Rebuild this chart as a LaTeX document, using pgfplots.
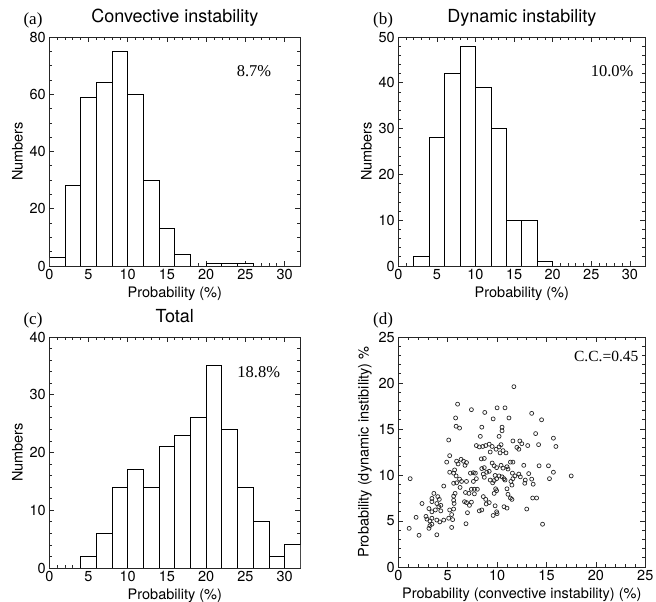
\documentclass[border=0pt]{standalone}
\usepackage{pgfplots}
\pgfplotsset{compat=1.18}
\usepackage{fontspec}
\setmainfont{TeX Gyre Heros}
\newfontfamily\serifn{Liberation Serif}

\pgfplotstableread{
x y
0 3
2 28
4 59
6 64
8 75
10 60
12 30
14 13
16 4
18 0
20 1
22 1
24 1
26 0
28 0
30 0
32 0
}\conv
\pgfplotstableread{
x y
0 0
2 2
4 28
6 42
8 48
10 39
12 30
14 10
16 10
18 1
20 0
22 0
24 0
26 0
28 0
30 0
32 0
}\dyn
\pgfplotstableread{
x y
0 0
2 0
4 2
6 6
8 14
10 17
12 14
14 21
16 23
18 26
20 35
22 24
24 14
26 8
28 2
30 4
32 0
}\tot
\pgfplotstableread{
x y
11.7 19.6
6.0 17.7
7.4 17.1
10.0 17.3
10.8 17.3
8.75 16.8
13.5 16.7
14.5 16.0
9.6 16.1
11.2 16.2
5.8 16.2
5.85 15.3
6.2 15.1
8.45 15.2
10.5 15.2
10.5 14.8
13.9 14.5
15.7 14.0
5.1 13.8
8.3 14.2
10.2 14.2
11.6 13.7
12.3 13.7
12.5 13.4
14.2 13.3
15.95 13.1
13.1 13.2
7.9 13.2
8.2 13.05
8.55 13.1
8.85 13.2
9.2 13.35
9.5 13.1
9.9 12.8
10.2 13.05
10.4 13.3
10.6 12.65
10.9 12.4
12.0 13.0
12.2 12.8
9.3 12.5
10.3 12.4
5.2 12.1
4.9 11.4
5.9 11.5
6.35 11.7
6.6 11.5
6.9 11.35
6.05 11.2
6.75 11.05
8.4 11.75
8.7 11.8
9.5 11.3
9.7 11.0
9.95 10.8
10.4 11.05
10.6 10.75
11.0 10.9
11.1 10.65
11.35 11.4
11.6 11.4
12.7 11.05
14.25 11.0
15.2 11.0
15.7 10.3
5.2 10.3
5.6 10.2
5.7 10.55
5.85 9.9
7.3 10.2
7.6 10.25
7.8 10.2
8.6 10.1
8.95 10.3
8.45 10.7
8.7 10.8
9.2 10.4
12.2 10.1
13.2 10.15
11.55 10.2
11.8 9.9
9.8 9.95
10.2 9.9
1.2 9.6
17.5 9.9
15.3 9.6
13.5 9.55
12.85 9.45
12.35 9.8
11.6 9.6
11.4 9.3
10.5 9.8
10.7 9.6
10.8 9.45
9.95 9.6
9.7 9.4
9.55 9.15
9.3 9.45
8.7 9.75
7.9 9.6
7.6 9.3
6.9 9.3
6.4 9.3
6.2 9.55
5.9 9.15
5.6 9.1
4.6 8.8
6.25 8.65
7.4 8.45
7.7 8.45
8.0 8.45
9.85 8.5
9.95 8.3
11.0 8.5
11.5 8.9
12.8 9.1
13.65 9.0
5.75 8.0
5.6 7.7
3.6 8.0
4.0 7.65
3.4 7.45
4.15 7.35
6.8 8.1
7.15 8.0
7.7 7.95
8.6 7.65
8.85 7.35
9.7 8.0
11.1 7.9
11.35 7.5
11.5 7.35
13.6 7.5
14.0 7.5
2.4 6.9
3.4 7.1
3.9 6.9
4.1 6.55
4.3 6.7
3.1 6.35
3.4 6.0
3.75 6.2
4.3 6.1
5.2 6.2
5.6 6.3
5.65 6.9
5.6 7.25
6.7 7.1
6.9 7.0
7.2 6.7
7.4 7.05
7.0 5.9
8.2 6.1
8.45 6.2
8.9 6.85
9.2 7.0
9.8 6.65
9.95 6.0
9.6 5.6
10.0 5.8
10.7 6.55
11.0 6.4
13.0 6.3
2.8 5.5
1.8 5.4
2.9 5.2
3.2 5.0
3.4 5.3
3.9 5.1
4.2 4.9
4.6 5.1
5.1 5.3
5.4 5.7
5.5 5.15
1.1 4.2
2.1 3.45
3.1 4.2
3.2 4.5
3.4 4.65
3.9 3.5
5.4 4.3
6.85 4.7
14.6 4.65
}\scat

\pgfplotsset{
  every axis/.append style={
    scale only axis,
    axis line style={line width=0.8pt, black!85},
    tick align=inside,
    major tick length=5pt,
    minor tick length=3pt,
    every tick/.style={black!85, line width=0.7pt},
    tick label style={font=\fontsize{14.5}{16}\selectfont},
    label style={font=\fontsize{14.5}{16}\selectfont},
    title style={font=\fontsize{18}{20}\selectfont, anchor=base, yshift=8pt},
    /pgf/number format/assume math mode=true,
    minor x tick num=4,
    xtick pos=both, ytick pos=both,
    xticklabel pos=lower, yticklabel pos=left,
  },
  hist/.style={
    xmin=0, xmax=32, ymin=0,
    xtick={0,5,...,30},
    ylabel={Numbers},
    xlabel={Probability (\%)},
  },
}

\begin{document}
\begin{tikzpicture}
\useasboundingbox (0pt,0pt) rectangle (656pt,602pt);

\begin{axis}[hist, at={(49.3pt,336pt)}, anchor=south west,
  width=251pt, height=229pt, ymax=80, ytick={0,20,...,80}, minor y tick num=3,
  title={Convective instability}]
\addplot[ybar interval, fill=white, draw=black, line width=0.8pt] table {\conv};
\node[font=\serifn\fontsize{16.5}{18}\selectfont] at (axis cs:26.1,68) {8.7\%};
\end{axis}

\begin{axis}[hist, at={(398.3pt,336pt)}, anchor=south west,
  width=247pt, height=229pt, ymax=50, ytick={0,10,...,50}, minor y tick num=4,
  title={Dynamic instability}]
\addplot[ybar interval, fill=white, draw=black, line width=0.8pt] table {\dyn};
\node[font=\serifn\fontsize{16.5}{18}\selectfont] at (axis cs:27.7,42.6) {10.0\%};
\end{axis}

\begin{axis}[hist, at={(49.3pt,34pt)}, anchor=south west,
  width=251pt, height=231pt, ymax=40, ytick={0,10,...,40}, minor y tick num=4,
  title={Total}]
\addplot[ybar interval, fill=white, draw=black, line width=0.8pt] table {\tot};
\node[font=\serifn\fontsize{16.5}{18}\selectfont] at (axis cs:26.7,33.9) {18.8\%};
\end{axis}

\begin{axis}[at={(398.3pt,35pt)}, anchor=south west,
  width=247pt, height=230pt, xmin=0, xmax=25, ymin=0, ymax=25,
  xtick={0,5,...,25}, ytick={0,5,...,25}, minor y tick num=4,
  xlabel={Probability (convective instability) (\%)},
  ylabel={Probability (dynamic instibility) \%}]
\addplot[only marks, mark=o, mark size=2pt, mark options={line width=0.7pt, draw=black!85}] table {\scat};
\node[font=\serifn\fontsize{15.5}{17}\selectfont] at (axis cs:21.05,22.9) {C.C.=0.45};
\end{axis}

\node[font=\serifn\fontsize{17}{19}\selectfont] at (33pt,582pt) {(a)};
\node[font=\serifn\fontsize{17}{19}\selectfont] at (383pt,582pt) {(b)};
\node[font=\serifn\fontsize{17}{19}\selectfont] at (33pt,282pt) {(c)};
\node[font=\serifn\fontsize{17}{19}\selectfont] at (383pt,282pt) {(d)};
\end{tikzpicture}
\end{document}
